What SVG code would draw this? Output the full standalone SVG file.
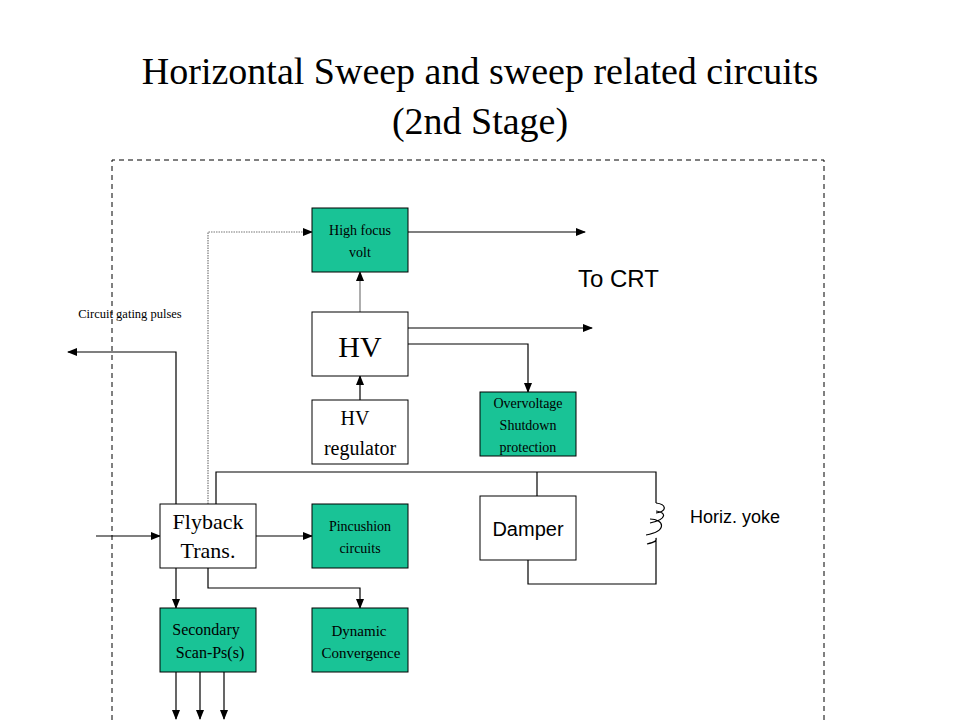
<svg xmlns="http://www.w3.org/2000/svg" width="960" height="720" viewBox="0 0 960 720">
<style>
.b{stroke:#000;stroke-width:1}
.w{fill:#fff}
.g{fill:#19c396}
.c{fill:none;stroke:#000;stroke-width:1.2}
.s{font-family:"Liberation Serif",serif;fill:#000;text-anchor:middle}
.a{font-family:"Liberation Sans",sans-serif;fill:#000}
</style>
<defs>
<marker id="m" markerWidth="10" markerHeight="8" refX="9" refY="4" orient="auto" markerUnits="userSpaceOnUse"><path d="M0,0L10,4L0,8z" fill="#000"/></marker>
</defs>
<rect width="960" height="720" fill="#fff"/>
<text class="s" x="480" y="84" font-size="38">Horizontal Sweep and sweep related circuits</text>
<text class="s" x="480" y="134" font-size="38">(2nd Stage)</text>
<path d="M112,720V160H824V720" fill="none" stroke="#000" stroke-dasharray="5,4"/>
<g id="connectors">
<path class="c" d="M408,232H585" marker-end="url(#m)"/>
<path class="c" d="M408,328H592" marker-end="url(#m)"/>
<path class="c" d="M408,344H528V392" marker-end="url(#m)"/>
<path d="M360,312V272" fill="none" stroke="#777" stroke-width="1.2" marker-end="url(#m)"/>
<path class="c" d="M360,400V376" marker-end="url(#m)"/>
<path class="c" d="M176,504V352H68" marker-end="url(#m)"/>
<path d="M208,504V232H312" fill="none" stroke="#777" stroke-width="1.2" stroke-dasharray="1.5,1" marker-end="url(#m)"/>
<path class="c" d="M216,504V472H656V503"/>
<path class="c" d="M537,472V496"/>
<path class="c" d="M656,503c10,1 12,8 0,10M656,511c10,1 12,8 -6,12M650,519c14,0 18,12 -4,16M647,544c8,-2 10,-3 9,-6V584H528V560"/>
<path class="c" d="M96,536H160" marker-end="url(#m)"/>
<path class="c" d="M256,536H312" marker-end="url(#m)"/>
<path class="c" d="M176,568V608" marker-end="url(#m)"/>
<path class="c" d="M208,568V588H360V608" marker-end="url(#m)"/>
<path class="c" d="M176,672V719" marker-end="url(#m)"/>
<path class="c" d="M200,672V719" marker-end="url(#m)"/>
<path class="c" d="M224,672V719" marker-end="url(#m)"/>
</g>
<g id="focus"><rect class="b g" x="312" y="208" width="96" height="64"/><text class="s" x="360" y="235" font-size="14">High focus</text><text class="s" x="360" y="257" font-size="14">volt</text></g>
<g id="hv"><rect class="b w" x="312" y="312" width="96" height="64"/><text class="s" x="360" y="357" font-size="30">HV</text></g>
<g id="hvreg"><rect class="b w" x="312" y="400" width="96" height="64"/><text class="s" x="355" y="425" font-size="20">HV</text><text class="s" x="360" y="455" font-size="20">regulator</text></g>
<g id="ovp"><rect class="b g" x="480" y="392" width="96" height="64"/><text class="s" x="528" y="408" font-size="14">Overvoltage</text><text class="s" x="528" y="430" font-size="14">Shutdown</text><text class="s" x="528" y="452" font-size="14">protection</text></g>
<g id="flyback"><rect class="b w" x="160" y="504" width="96" height="64"/><text class="s" x="208" y="529" font-size="22">Flyback</text><text class="s" x="208" y="558" font-size="22">Trans.</text></g>
<g id="pin"><rect class="b g" x="312" y="504" width="96" height="64"/><text class="s" x="360" y="531" font-size="14">Pincushion</text><text class="s" x="360" y="553" font-size="14">circuits</text></g>
<g id="damper"><rect class="b w" x="480" y="496" width="96" height="64"/><text class="a" x="528" y="536" font-size="20" text-anchor="middle">Damper</text></g>
<g id="sec"><rect class="b g" x="160" y="608" width="96" height="64"/><text class="s" x="206" y="635" font-size="16">Secondary</text><text class="s" x="210" y="658" font-size="16">Scan-Ps(s)</text></g>
<g id="dyn"><rect class="b g" x="312" y="608" width="96" height="64"/><text class="s" x="359" y="636" font-size="15">Dynamic</text><text class="s" x="361" y="658" font-size="15">Convergence</text></g>
<text class="a" x="578" y="287" font-size="24">To CRT</text>
<text class="a" x="690" y="523" font-size="18">Horiz. yoke</text>
<text class="s" x="130" y="318" font-size="12.5">Circuit gating pulses</text>
</svg>
